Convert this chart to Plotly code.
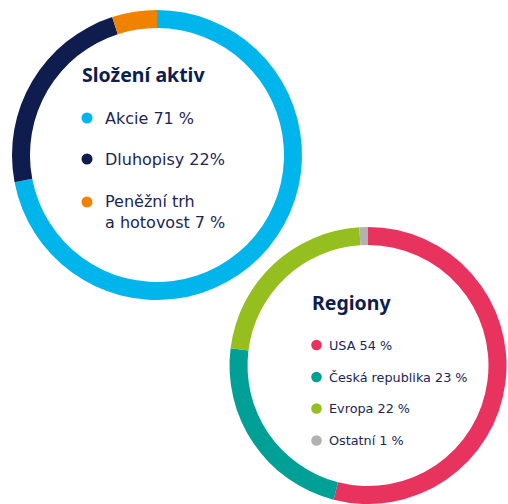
import plotly.graph_objects as go

W, H = 508, 504

# ---- data ----
asset_labels = ["Akcie", "Dluhopisy", "Peněžní trh a hotovost"]
asset_values = [72, 23, 5]
asset_legend = ["Akcie 71 %", "Dluhopisy 22%", "Peněžní trh<br>a hotovost 7 %"]
asset_colors = ["#00B5EB", "#0E1D4D", "#F08200"]

region_labels = ["USA", "Česká republika", "Evropa", "Ostatní"]
region_values = [54, 23, 22, 1]
region_legend = ["USA 54 %", "Česká republika 23 %", "Evropa 22 %", "Ostatní 1 %"]
region_colors = ["#E8335E", "#00A096", "#95BF1F", "#B2B2B2"]

TITLE1 = "Složení aktiv"
TITLE2 = "Regiony"

NAVY = "#0E1D4D"
TEXT = "#1C2654"
TITLE_FONT = "Noto Sans"
BODY_FONT = "DejaVu Sans"


def px(x):
    return x / W


def py(y):
    return 1 - y / H


fig = go.Figure()

fig.add_trace(go.Pie(
    labels=asset_labels, values=asset_values, hole=0.876, sort=False,
    direction="clockwise", rotation=0, textinfo="none", hoverinfo="label+percent",
    marker=dict(colors=asset_colors, line=dict(width=0)),
    domain=dict(x=[px(12), px(302)], y=[py(300), py(10)]),
    showlegend=False,
))

fig.add_trace(go.Pie(
    labels=region_labels, values=region_values, hole=0.87, sort=False,
    direction="clockwise", rotation=0, textinfo="none", hoverinfo="label+percent",
    marker=dict(colors=region_colors, line=dict(width=0)),
    domain=dict(x=[px(229), px(507)], y=[0, py(227)]),
    showlegend=False,
))

annotations = []
shapes = []

# Title 1
annotations.append(dict(x=px(80), y=py(74.5), xref="paper", yref="paper",
                        xanchor="left", yanchor="middle", showarrow=False,
                        text="<b>" + TITLE1 + "</b>",
                        font=dict(family=TITLE_FONT, size=19.5, color=NAVY)))
rows1 = [118, 159, 212]
dots1 = [118, 159, 202]
for i, t in enumerate(asset_legend):
    annotations.append(dict(x=px(103), y=py(rows1[i]), xref="paper", yref="paper",
                            xanchor="left", yanchor="middle", showarrow=False,
                            align="left", text=t,
                            font=dict(family=BODY_FONT, size=16, color=TEXT)))
    r = 5.5
    shapes.append(dict(type="circle", xref="paper", yref="paper",
                       x0=px(87 - r), x1=px(87 + r), y0=py(dots1[i] + r), y1=py(dots1[i] - r),
                       fillcolor=asset_colors[i], line=dict(width=0)))

# Title 2
annotations.append(dict(x=px(310), y=py(302), xref="paper", yref="paper",
                        xanchor="left", yanchor="middle", showarrow=False,
                        text="<b>" + TITLE2 + "</b>",
                        font=dict(family=TITLE_FONT, size=19.5, color=NAVY)))
rows2 = [345, 377, 408.5, 440.5]
for i, t in enumerate(region_legend):
    annotations.append(dict(x=px(326.5), y=py(rows2[i]), xref="paper", yref="paper",
                            xanchor="left", yanchor="middle", showarrow=False,
                            align="left", text=t,
                            font=dict(family=BODY_FONT, size=12.8, color=TEXT)))
    r = 5.3
    shapes.append(dict(type="circle", xref="paper", yref="paper",
                       x0=px(316.5 - r), x1=px(316.5 + r), y0=py(rows2[i] + r), y1=py(rows2[i] - r),
                       fillcolor=region_colors[i], line=dict(width=0)))

fig.update_layout(width=W, height=H, margin=dict(l=0, r=0, t=0, b=0),
                  paper_bgcolor="white", plot_bgcolor="white",
                  annotations=annotations, shapes=shapes, showlegend=False)

fig.write_html("out.html", config={"displayModeBar": False})
